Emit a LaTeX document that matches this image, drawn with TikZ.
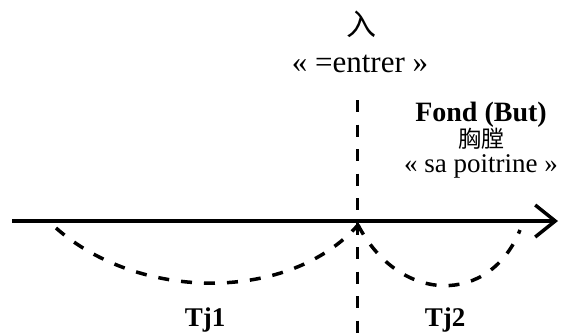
\documentclass[tikz,border=0pt]{standalone}
\usepackage{fontspec}
\setmainfont{Liberation Serif}
\newfontfamily\cjk{Noto Sans CJK SC}
\usetikzlibrary{arrows.meta}
\begin{document}
\begin{tikzpicture}[x=1pt,y=-1pt,
  txt/.style={inner sep=0pt,anchor=base},
  clbl/.style={inner sep=0pt,font=\cjk},
  axis/.style={line width=3.5pt,-{Straight Barb[length=20pt,width=32pt,line width=3.5pt]}},
  dline/.style={line width=3pt,dash pattern=on 12pt off 12.5pt},
  dcurve/.style={line width=3.5pt,dash pattern=on 11pt off 12pt}]
\useasboundingbox (0,0) rectangle (566,333);
\fill[white] (0,0) rectangle (566,333);
\coordinate (a0) at (12,221);
\coordinate (a1) at (558,221);
\coordinate (v0) at (357,100);
\coordinate (v1) at (357,345);
\coordinate (c0) at (56,228);
\coordinate (c1) at (358,225);
\coordinate (c2) at (520,230);
\node[clbl,font=\cjk\fontsize{30}{32}\selectfont] (ru) at (361,24) {入};
\node[txt,font=\fontsize{31}{34}\selectfont] (entrer) at (360,72) {« =entrer »};
\node[txt,font=\fontsize{28}{30}\selectfont\bfseries] (fond) at (481,121) {Fond (But)};
\node[clbl,font=\cjk\fontsize{23}{25}\selectfont] (xiong) at (481,139) {胸膛};
\node[txt,font=\fontsize{27}{30}\selectfont] (poit) at (481,172) {« sa poitrine »};
\node[txt,font=\fontsize{27}{30}\selectfont\bfseries] (tj1) at (205,326) {Tj1};
\node[txt,font=\fontsize{27}{30}\selectfont\bfseries] (tj2) at (445,326) {Tj2};
\draw[dline] (v0) -- (v1);
\draw[axis] (a0) -- (a1);
\draw[dcurve] (c0) .. controls (140,302) and (290,302) .. (c1);
\draw[dcurve] (c1) .. controls (400,305) and (490,305) .. (c2);
\end{tikzpicture}
\end{document}
